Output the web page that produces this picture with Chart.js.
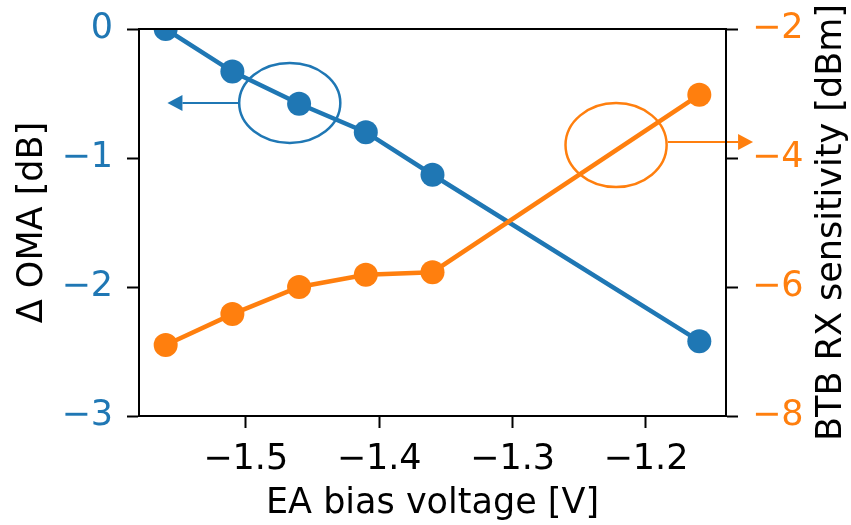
<!DOCTYPE html>
<html>
<head>
<meta charset="utf-8">
<script src="https://cdn.jsdelivr.net/npm/chart.js@4/dist/chart.umd.min.js"></script>
<style>
  html, body { margin: 0; padding: 0; background: #fff; }
  #wrap { width: 851px; height: 525px; }
</style>
</head>
<body>
<div id="wrap"><canvas id="c" width="851" height="525"></canvas></div>
<script>
// ---- data ----
const biasVoltage = [-1.56, -1.51, -1.46, -1.41, -1.36, -1.16];
const deltaOMA = [0, -0.33, -0.58, -0.80, -1.13, -2.42];
const btbSensitivity = [-6.90, -6.42, -6.00, -5.81, -5.77, -3.02];
const xTicks = [-1.5, -1.4, -1.3, -1.2];
const leftTicks = [0, -1, -2, -3];
const rightTicks = [-2, -4, -6, -8];
const xLabel = 'EA bias voltage [V]';
const leftLabel = 'Δ OMA [dB]';
const rightLabel = 'BTB RX sensitivity [dBm]';

// ---- annotation callouts (data units) ----
const blueCallout = { cx: -1.467, cy: -0.574, rx: 0.0379, ry: 0.31, ax0: -1.5055, ax1: -1.5587, ay: -0.574 };
const orangeCallout = { cx: -1.2224, cy: -3.80, rx: 0.0379, ry: 0.651, ax0: -1.1835, ax1: -1.1197, ay: -3.75 };

const BLUE = '#1f77b4';
const ORANGE = '#ff7f0e';
const FONT = 'DejaVu Sans';
const minus = v => String(v).replace('-', '\u2212');

Chart.defaults.font.family = FONT;
Chart.defaults.font.size = 35;
Chart.defaults.color = '#000';

const toXY = (xs, ys) => xs.map((x, i) => ({ x, y: ys[i] }));

const decorations = {
  id: 'decorations',
  afterDatasetsDraw(chart) {
    const { ctx, scales } = chart;
    const xs = scales.x;
    function callout(c, ys, color) {
      const cx = xs.getPixelForValue(c.cx), cy = ys.getPixelForValue(c.cy);
      const rx = Math.abs(xs.getPixelForValue(c.cx + c.rx) - cx);
      const ry = Math.abs(ys.getPixelForValue(c.cy + c.ry) - cy);
      ctx.save();
      ctx.strokeStyle = color; ctx.fillStyle = color; ctx.lineWidth = 2.5;
      ctx.beginPath(); ctx.ellipse(cx, cy, rx, ry, 0, 0, Math.PI * 2); ctx.stroke();
      const x0 = xs.getPixelForValue(c.ax0), x1 = xs.getPixelForValue(c.ax1), y = ys.getPixelForValue(c.ay);
      const dir = Math.sign(x1 - x0);
      const head = 15, hw = 8;
      ctx.lineWidth = 2;
      ctx.beginPath(); ctx.moveTo(x0, y); ctx.lineTo(x1 - dir * head, y); ctx.stroke();
      ctx.beginPath(); ctx.moveTo(x1, y); ctx.lineTo(x1 - dir * head, y - hw); ctx.lineTo(x1 - dir * head, y + hw); ctx.closePath(); ctx.fill();
      ctx.restore();
    }
    callout(blueCallout, scales.yL, BLUE);
    callout(orangeCallout, scales.yR, ORANGE);
  },
  afterDraw(chart) {
    const { ctx, chartArea: a, scales } = chart;
    ctx.save();
    ctx.strokeStyle = '#000'; ctx.lineWidth = 2;
    ctx.strokeRect(a.left, a.top, a.right - a.left, a.bottom - a.top);
    // right axis title, reading bottom-to-top
    ctx.fillStyle = '#000';
    ctx.font = '35px "' + FONT + '"';
    ctx.textAlign = 'center'; ctx.textBaseline = 'middle';
    ctx.translate(scales.yR.right - 19, (a.top + a.bottom) / 2);
    ctx.rotate(-Math.PI / 2);
    ctx.fillText(rightLabel, 0, 0);
    ctx.restore();
  }
};

const gridOpts = { display: true, drawOnChartArea: false, drawTicks: true, tickLength: 12, tickColor: '#000', tickWidth: 2 };
const noVPad = s => { s.paddingTop = 0; s.paddingBottom = 0; };

new Chart(document.getElementById('c'), {
  type: 'line',
  data: {
    datasets: [
      { label: 'ΔOMA', data: toXY(biasVoltage, deltaOMA), yAxisID: 'yL', borderColor: BLUE, backgroundColor: BLUE,
        borderWidth: 4.5, pointRadius: 12, pointBorderWidth: 0, pointBackgroundColor: BLUE, clip: 0, order: 1 },
      { label: 'Sensitivity', data: toXY(biasVoltage, btbSensitivity), yAxisID: 'yR', borderColor: ORANGE, backgroundColor: ORANGE,
        borderWidth: 4.5, pointRadius: 12, pointBorderWidth: 0, pointBackgroundColor: ORANGE, clip: 0, order: 0 }
    ]
  },
  options: {
    responsive: false,
    devicePixelRatio: 1,
    animation: false,
    layout: { padding: { top: 29, bottom: 0, left: 0, right: 0 } },
    plugins: { legend: { display: false }, tooltip: { enabled: false } },
    scales: {
      x: {
        type: 'linear', position: 'bottom', min: -1.58, max: -1.14,
        afterBuildTicks: s => { s.ticks = xTicks.map(v => ({ value: v })); },
        afterFit: s => { s.height = 109; s.paddingLeft = 0; s.paddingRight = 0; },
        ticks: { padding: 11, color: '#000', callback: v => minus(v) },
        grid: gridOpts,
        border: { display: true, color: '#000', width: 2 },
        title: { display: true, text: xLabel, color: '#000', padding: { top: 0, bottom: 0 } }
      },
      yL: {
        type: 'linear', position: 'left', min: -3, max: 0,
        afterBuildTicks: s => { s.ticks = leftTicks.map(v => ({ value: v })); },
        afterFit: s => { s.width = 139; noVPad(s); },
        ticks: { padding: 14, color: BLUE, callback: v => minus(v) },
        grid: gridOpts,
        border: { display: true, color: '#000', width: 2 },
        title: { display: true, text: leftLabel, color: '#000', padding: { top: 12, bottom: 0 } }
      },
      yR: {
        type: 'linear', position: 'right', min: -8, max: -2,
        afterBuildTicks: s => { s.ticks = rightTicks.map(v => ({ value: v })); },
        afterFit: s => { s.width = 125; noVPad(s); },
        ticks: { padding: 14, color: ORANGE, callback: v => minus(v) },
        grid: gridOpts,
        border: { display: true, color: '#000', width: 2 }
      }
    }
  },
  plugins: [decorations]
});
</script>
</body>
</html>
